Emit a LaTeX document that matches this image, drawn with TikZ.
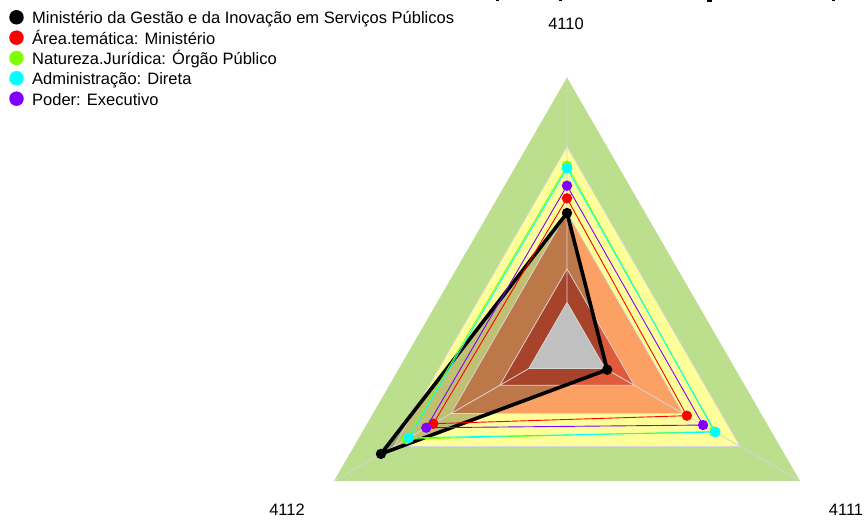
\documentclass[tikz,border=0pt]{standalone}
\usepackage{fontspec}
\setmainfont{Liberation Sans}
\definecolor{bandgreen}{HTML}{BBDF8D}
\definecolor{bandyellow}{HTML}{FFFF99}
\definecolor{bandsalmon}{HTML}{FCA063}
\definecolor{banddark}{HTML}{DF5A3A}
\definecolor{gridgrey}{HTML}{D6D6D6}
\definecolor{serred}{HTML}{FF0000}
\definecolor{serlime}{HTML}{80FF00}
\definecolor{sercyan}{HTML}{00FFFF}
\definecolor{serpurple}{HTML}{8000FF}
\begin{document}
\begin{tikzpicture}[x=1pt,y=1pt,
  gridline/.style={draw=gridgrey, line width=0.8pt},
  serline/.style={line width=0.9pt, line join=round},
  lbl/.style={font=\fontsize{16.5}{18}\selectfont, inner sep=0pt, anchor=base},
  legtext/.style={font=\fontsize{16.5}{18}\selectfont, inner sep=0pt, anchor=base west},
  legdot/.style={circle, inner sep=0pt, minimum size=14.5pt}]
\useasboundingbox (0,0) rectangle (866,521);
\fill[white] (0,0) rectangle (866,521);
% clipped title fragments
\fill[black] (496,519.6) rectangle (498.5,521);
\fill[black] (559,519.6) rectangle (561.5,521);
\fill[black] (707,519.3) rectangle (712,521);
\fill[black] (832,519.6) rectangle (834.5,521);
\coordinate (C) at (567,174.5);
\begin{scope}[shift={(C)}]
  % bands
  \foreach \r/\c in {269/bandgreen,200/bandyellow,134/bandsalmon,77.5/banddark,44/white}
    \fill[\c] (90:\r) -- (-30:\r) -- (210:\r) -- cycle;
  % series points
  \coordinate (k1) at (90:133.5);  \coordinate (k2) at (-30:46.4);  \coordinate (k3) at (210:214.8);
  \coordinate (r1) at (90:148.2);  \coordinate (r2) at (-30:138.4); \coordinate (r3) at (210:154.4);
  \coordinate (g1) at (90:180.8);  \coordinate (g2) at (-30:170);   \coordinate (g3) at (210:185.3);
  \coordinate (c1) at (90:178.2);  \coordinate (c2) at (-30:171.2); \coordinate (c3) at (210:182.7);
  \coordinate (p1) at (90:160.8);  \coordinate (p2) at (-30:157.1); \coordinate (p3) at (210:162.5);
  % black series fill
  \fill[black, fill opacity=0.247] (k1) -- (k2) -- (k3) -- cycle;
  % grid
  \foreach \r in {44,77.5,134,200}
    \draw[gridline] (90:\r) -- (-30:\r) -- (210:\r) -- cycle;
  \coordinate (B1) at (90:44);
  \coordinate (B2) at (-30:44);
  \coordinate (B3) at (210:44);
  \coordinate (A1) at (90:269);
  \coordinate (A2) at (-30:269);
  \coordinate (A3) at (210:269);
  \draw[gridline] (B1) -- (A1) (B2) -- (A2) (B3) -- (A3);
  % black series
  \draw[black, line width=3.6pt, line join=round] (k1) -- (k2) -- (k3) -- cycle;
  \foreach \p in {k1,k2,k3} \fill[black] (\p) circle (5.2);
  % red
  \draw[serline, serred] (r1) -- (r2) -- (r3) -- cycle;
  \foreach \p in {r1,r2,r3} \fill[serred] (\p) circle (5.2);
  % lime
  \draw[serline, serlime] (g1) -- (g2) -- (g3) -- cycle;
  \foreach \p in {g1,g2,g3} \fill[serlime] (\p) circle (5.2);
  % cyan
  \draw[serline, sercyan] (c1) -- (c2) -- (c3) -- cycle;
  \foreach \p in {c1,c2,c3} \fill[sercyan] (\p) circle (5.4);
  % purple
  \draw[serline, serpurple] (p1) -- (p2) -- (p3) -- cycle;
  \foreach \p in {p1,p2,p3} \fill[serpurple] (\p) circle (5.2);
\end{scope}
% axis labels
\node[lbl] (l4110) at (566,491) {4110};
\node[lbl] (l4111) at (846,5) {4111};
\node[lbl] (l4112) at (287,5) {4112};
% legend
\node[legdot, fill=black]     (d1) at (16.5,503.7) {};
\node[legdot, fill=serred]    (d2) at (16.5,483.3) {};
\node[legdot, fill=serlime]   (d3) at (16.5,463) {};
\node[legdot, fill=sercyan]   (d4) at (16.5,442.7) {};
\node[legdot, fill=serpurple] (d5) at (16.5,422.3) {};
\node[legtext] (t1) at (32,497) {Ministério da Gestão e da Inovação em Serviços Públicos};
\node[legtext] (t2) at (32,476.6) {Área.temática: Ministério};
\node[legtext] (t3) at (32,456.3) {Natureza.Jurídica: Órgão Público};
\node[legtext] (t4) at (32,436) {Administração: Direta};
\node[legtext] (t5) at (32,415.6) {Poder: Executivo};
\end{tikzpicture}
\end{document}
